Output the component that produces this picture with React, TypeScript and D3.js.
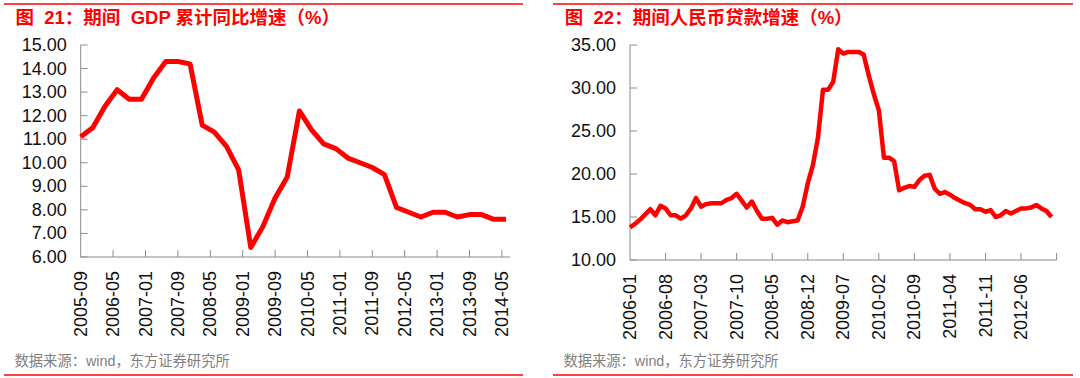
import React from "react";
import * as d3 from "d3";

// ---------- Data: Figure 21 (quarterly, cumulative GDP growth, %) ----------
const gdpStart = { year: 2005, month: 9 };
const gdpValues = [
  11.1, 11.5,
  12.4, 13.1, 12.7, 12.7,
  13.6, 14.3, 14.3, 14.2,
  11.6, 11.3, 10.7, 9.7,
  6.4, 7.3, 8.5, 9.4,
  12.2, 11.4, 10.8, 10.6,
  10.2, 10.0, 9.8, 9.5,
  8.1, 7.9, 7.7, 7.9,
  7.9, 7.7, 7.8, 7.8,
  7.6, 7.6,
];
const gdpXLabels = [
  "2005-09", "2006-05", "2007-01", "2007-09", "2008-05", "2009-01", "2009-09",
  "2010-05", "2011-01", "2011-09", "2012-05", "2013-01", "2013-09", "2014-05",
];
const gdpYTicks = [6, 7, 8, 9, 10, 11, 12, 13, 14, 15];

// ---------- Data: Figure 22 (monthly, RMB loan growth, %) ----------
const loanStart = { year: 2006, month: 1 };
const loanValues = [
  13.8, 14.2, 14.7, 15.3, 15.9, 15.2, 16.3, 16.0, 15.2, 15.2, 14.8, 15.2,
  16.0, 17.2, 16.2, 16.5, 16.6, 16.6, 16.6, 17.0, 17.2, 17.7, 16.9, 16.1,
  16.8, 15.7, 14.8, 14.8, 14.9, 14.1, 14.6, 14.4, 14.5, 14.6, 16.2, 18.9,
  21.0, 24.2, 29.8, 29.8, 30.7, 34.5, 34.0, 34.2, 34.2, 34.2, 33.9, 31.5,
  29.3, 27.4, 21.9, 21.9, 21.5, 18.1, 18.4, 18.6, 18.5, 19.3, 19.8, 19.9,
  18.3, 17.7, 17.9, 17.6, 17.2, 16.9, 16.6, 16.4, 15.9, 15.9, 15.6, 15.8,
  15.0, 15.2, 15.7, 15.4, 15.7, 16.0, 16.0, 16.1, 16.4, 16.0, 15.7, 15.0,
];
const loanXLabels = [
  "2006-01", "2006-08", "2007-03", "2007-10", "2008-05", "2008-12",
  "2009-07", "2010-02", "2010-09", "2011-04", "2011-11", "2012-06",
];
const loanYTicks = [10, 15, 20, 25, 30, 35];

const titleLeft = "图  21：期间  GDP 累计同比增速（%）";
const titleRight = "图  22：期间人民币贷款增速（%）";
const sourceText = "数据来源：wind，东方证券研究所";

// month offset of a "YYYY-MM" label from a start
const monthIndex = (label: string, start: { year: number; month: number }) => {
  const [y, m] = label.split("-").map(Number);
  return (y - start.year) * 12 + (m - start.month);
};

const RED = "#FF0000";
const AXIS = "#8c8c8c";
const FONT = "'Liberation Sans', Arial, 'Noto Sans CJK SC', sans-serif";

type PanelProps = {
  x0: number; x1: number; y0: number; y1: number;
  xDomainMax: number;
  yDomain: [number, number];
  yTicks: number[];
  xLabels: string[];
  start: { year: number; month: number };
  values: number[];
  step: number;
  tickEvery: number;
  endTick: boolean;
  lineWidth: number;
  ruleX0: number; ruleX1: number;
  title: string; titleX: number; sourceX: number;
};

function Panel(p: PanelProps) {
  const x = d3.scaleLinear().domain([0, p.xDomainMax]).range([p.x0, p.x1]);
  const y = d3.scaleLinear().domain(p.yDomain).range([p.y0, p.y1]);
  const pts = p.values.map((v, i) => [i * p.step, v] as [number, number]);
  const line = d3.line<[number, number]>().x((d) => x(d[0])).y((d) => y(d[1]));
  const xTicks: number[] = [];
  for (let m = p.tickEvery; m < p.xDomainMax; m += p.tickEvery) xTicks.push(m);
  if (p.endTick) xTicks.push(p.xDomainMax);
  const axisY = y(p.yDomain[0]);
  return (
    <g>
      <line x1={p.ruleX0} x2={p.ruleX1} y1={4} y2={4} stroke={RED} strokeWidth={1.5} />
      <text x={p.titleX} y={24} fill={RED} fontSize={18.5} fontWeight="bold" fontFamily={FONT}
        style={{ whiteSpace: "pre" }}>
        {p.title}
      </text>
      {/* y axis */}
      <line x1={p.x0} x2={p.x0} y1={y(p.yDomain[1])} y2={axisY} stroke={AXIS} strokeWidth={1} />
      {p.yTicks.map((t) => (
        <g key={"y" + t}>
          <line x1={p.x0} x2={p.x0 + 7} y1={y(t)} y2={y(t)} stroke={AXIS} strokeWidth={1} />
          <text x={p.x0 - 14} y={y(t)} textAnchor="end" dominantBaseline="central"
            fontSize={18} fontFamily={FONT} fill="#111">{t.toFixed(2)}</text>
        </g>
      ))}
      {/* x axis */}
      <line x1={p.x0} x2={p.x1} y1={axisY} y2={axisY} stroke={AXIS} strokeWidth={1} />
      {xTicks.map((t) => (
        <line key={"xt" + t} x1={x(t)} x2={x(t)} y1={axisY} y2={axisY - 7} stroke={AXIS} strokeWidth={1} />
      ))}
      {p.xLabels.map((lab) => {
        const m = monthIndex(lab, p.start);
        return (
          <text key={lab} transform={`translate(${x(m)},${axisY + 14}) rotate(-90)`}
            textAnchor="end" dominantBaseline="central" fontSize={18} fontFamily={FONT} fill="#111">
            {lab}
          </text>
        );
      })}
      <path d={line(pts) || ""} fill="none" stroke={RED} strokeWidth={p.lineWidth}
        strokeLinejoin="round" strokeLinecap="butt" />
      <text x={p.sourceX} y={366} fill="#7f7f7f" fontSize={14.3} fontFamily={FONT}>{sourceText}</text>
      <line x1={p.ruleX0} x2={p.ruleX1} y1={375} y2={375} stroke={RED} strokeWidth={1.5} />
    </g>
  );
}

export default function App() {
  return (
    <svg width={1080} height={378} style={{ position: "absolute", left: 0, top: 0, background: "#fff" }}>
      <rect width={1080} height={378} fill="#fff" />
      <Panel
        x0={80.7} x1={510} y0={257} y1={45}
        xDomainMax={106} yDomain={[6, 15]} yTicks={gdpYTicks}
        xLabels={gdpXLabels} start={gdpStart}
        values={gdpValues} step={3} tickEvery={8} endTick={false} lineWidth={5}
        ruleX0={4} ruleX1={523} title={titleLeft} titleX={15.5} sourceX={14.5}
      />
      <Panel
        x0={630} x1={1056.6} y0={260} y1={45}
        xDomainMax={84} yDomain={[10, 35]} yTicks={loanYTicks}
        xLabels={loanXLabels} start={loanStart}
        values={loanValues} step={1} tickEvery={7} endTick={true} lineWidth={4.5}
        ruleX0={553} ruleX1={1073} title={titleRight} titleX={564.8} sourceX={563.4}
      />
    </svg>
  );
}
